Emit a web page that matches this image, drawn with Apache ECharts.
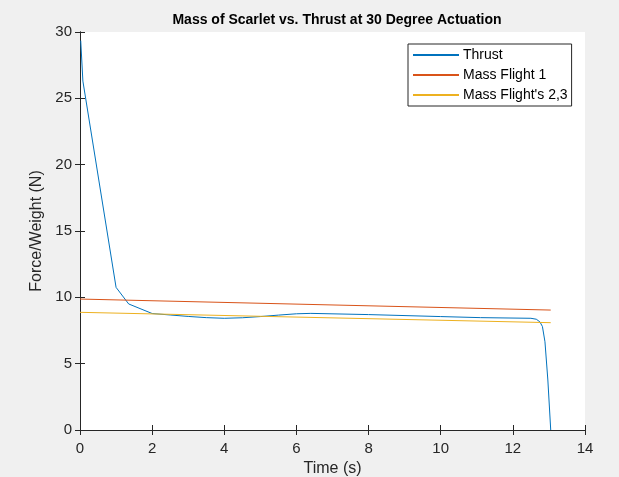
<!DOCTYPE html>
<html>
<head>
<meta charset="utf-8">
<script src="https://cdn.jsdelivr.net/npm/echarts@6/dist/echarts.min.js"></script>
<style>
    html, body { margin: 0; padding: 0; background: #f0f0f0; }
    #chart { width: 619px; height: 477px; }
</style>
</head>
<body>
<div id="chart"></div>
<script>
    // time (s) / value pairs
    const thrust = [
        [0.02, 29.35], [0.08, 26.3], [1.0, 10.75], [1.35, 9.5], [2.0, 8.78],
        [2.5, 8.67], [3.0, 8.56], [3.5, 8.47], [4.0, 8.42], [4.5, 8.46],
        [5.0, 8.55], [5.5, 8.66], [6.0, 8.76], [6.4, 8.79], [8.0, 8.7],
        [10.0, 8.55], [11.1, 8.47], [12.5, 8.42], [12.65, 8.35], [12.75, 8.15],
        [12.82, 7.8], [12.89, 6.65], [12.97, 3.77], [13.05, 0]
    ];
    const massFlight1 = [[0, 9.87], [13.05, 9.04]];
    const massFlight23 = [[0, 8.87], [13.05, 8.09]];
    const xTicks = [0, 2, 4, 6, 8, 10, 12, 14];
    const yTicks = [0, 5, 10, 15, 20, 25, 30];

    const font = '"Liberation Sans", Arial, Helvetica, sans-serif';
    const axisColor = '#262626';

    const chart = echarts.init(document.getElementById('chart'));

    function makeAxis(ticks, extra) {
        return Object.assign({
            type: 'value',
            min: ticks[0],
            max: ticks[ticks.length - 1],
            interval: ticks[1] - ticks[0],
            axisLine: { show: true, lineStyle: { color: axisColor, width: 1 } },
            axisTick: { show: true, inside: true, length: 5, lineStyle: { color: axisColor } },
            splitLine: { show: false },
            axisLabel: { color: axisColor, fontFamily: font, fontSize: 15 }
        }, extra);
    }

    const option = {
        backgroundColor: '#f0f0f0',
        animation: false,
        title: {
            text: 'Mass of Scarlet vs. Thrust at 30 Degree Actuation',
            left: 332, top: 8, textAlign: 'center',
            textStyle: { fontFamily: font, fontSize: 14, fontWeight: 'bold', color: '#000' }
        },
        grid: {
            left: 80, right: 34, top: 32, bottom: 47,
            outerBoundsMode: 'none', containLabel: false,
            show: true, backgroundColor: '#fff', borderWidth: 0
        },
        legend: {
            orient: 'vertical',
            left: 408, top: 44,
            itemWidth: 46, itemHeight: 2, itemGap: 6,
            icon: 'rect',
            backgroundColor: '#fff',
            borderColor: '#262626', borderWidth: 1, borderRadius: 0,
            padding: [4, 4, 4, 5],
            textStyle: { fontFamily: font, fontSize: 14, color: '#000', padding: [0, 0, 0, -1] },
            data: ['Thrust', 'Mass Flight 1', "Mass Flight's 2,3"]
        },
        xAxis: [
            makeAxis(xTicks, {
                position: 'bottom',
                name: 'Time (s)', nameLocation: 'middle', nameGap: 31,
                nameTextStyle: { fontFamily: font, fontSize: 16, color: axisColor },
                axisLabel: { color: axisColor, fontFamily: font, fontSize: 15, margin: 11 }
            }),
            makeAxis(xTicks, { position: 'top', axisLabel: { show: false } })
        ],
        yAxis: [
            makeAxis(yTicks, {
                position: 'left',
                name: 'Force/Weight (N)', nameLocation: 'middle', nameGap: 29,
                nameTextStyle: { fontFamily: font, fontSize: 16, color: axisColor },
                axisLabel: { color: axisColor, fontFamily: font, fontSize: 15, margin: 8 }
            }),
            makeAxis(yTicks, { position: 'right', axisLabel: { show: false } })
        ],
        series: [
            {
                name: 'Thrust', type: 'line', data: thrust, symbol: 'none',
                lineStyle: { color: '#0072BD', width: 1 }, itemStyle: { color: '#0072BD' }
            },
            {
                name: 'Mass Flight 1', type: 'line', data: massFlight1, symbol: 'none',
                lineStyle: { color: '#D95319', width: 1 }, itemStyle: { color: '#D95319' }
            },
            {
                name: "Mass Flight's 2,3", type: 'line', data: massFlight23, symbol: 'none',
                lineStyle: { color: '#EDB120', width: 1 }, itemStyle: { color: '#EDB120' }
            }
        ]
    };

    chart.setOption(option);
</script>
</body>
</html>
